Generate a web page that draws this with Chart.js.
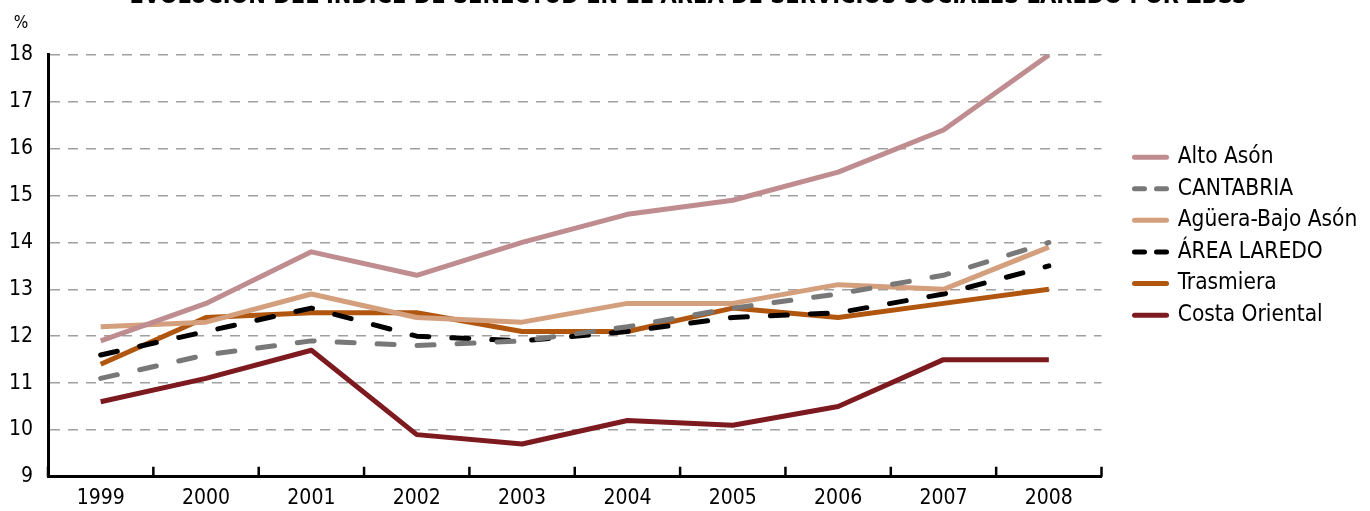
<!DOCTYPE html>
<html>
<head>
<meta charset="utf-8">
<script src="https://cdn.jsdelivr.net/npm/chart.js@4"></script>
<style>
  html, body { margin: 0; padding: 0; background: #fff; overflow: hidden; }
  #wrap { position: absolute; left: 0; top: -20px; width: 1370px; height: 531px; }
</style>
</head>
<body>
<div id="wrap"><canvas id="chart"></canvas></div>
<script>
const years = ['1999', '2000', '2001', '2002', '2003', '2004', '2005', '2006', '2007', '2008'];
const seriesNames = ['Alto Asón', 'CANTABRIA', 'Agüera-Bajo Asón', 'ÁREA LAREDO', 'Trasmiera', 'Costa Oriental'];
const altoAson = [11.9, 12.7, 13.8, 13.3, 14.0, 14.6, 14.9, 15.5, 16.4, 18.0];
const cantabria = [11.1, 11.6, 11.9, 11.8, 11.9, 12.2, 12.6, 12.9, 13.3, 14.0];
const agueraBajoAson = [12.2, 12.3, 12.9, 12.4, 12.3, 12.7, 12.7, 13.1, 13.0, 13.9];
const areaLaredo = [11.6, 12.1, 12.6, 12.0, 11.9, 12.1, 12.4, 12.5, 12.9, 13.5];
const trasmiera = [11.4, 12.4, 12.5, 12.5, 12.1, 12.1, 12.6, 12.4, 12.7, 13.0];
const costaOriental = [10.6, 11.1, 11.7, 9.9, 9.7, 10.2, 10.1, 10.5, 11.5, 11.5];
const yMin = 9, yMax = 18, yStep = 1;

const FONT = '"DejaVu Sans Condensed", "DejaVu Sans", sans-serif';

function line(label, data, color, dashed) {
  return {
    label: label,
    data: data,
    borderColor: color,
    backgroundColor: color,
    borderWidth: 5,
    borderDash: dashed ? [17, 23] : [],
    borderCapStyle: dashed ? 'round' : 'butt',
    borderJoinStyle: 'round',
    pointRadius: 0,
    tension: 0,
    fill: false
  };
}

// small inward tick marks on the category axis, between the years
const innerTicks = {
  id: 'innerTicks',
  afterDraw(chart) {
    const x = chart.scales.x;
    const ctx = chart.ctx;
    const half = (x.getPixelForValue(1) - x.getPixelForValue(0)) / 2;
    ctx.save();
    ctx.strokeStyle = '#000';
    ctx.lineWidth = 2.5;
    ctx.beginPath();
    for (let i = 0; i <= years.length; i++) {
      const px = x.getPixelForValue(i) - half;
      ctx.moveTo(px, x.top);
      ctx.lineTo(px, x.top - 10);
    }
    ctx.stroke();
    ctx.restore();
  }
};

new Chart(document.getElementById('chart'), {
  type: 'line',
  data: {
    labels: years,
    datasets: [
      line(seriesNames[0], altoAson, '#BF8C8F', false),
      line(seriesNames[1], cantabria, '#787878', true),
      line(seriesNames[2], agueraBajoAson, '#D49F7C', false),
      line(seriesNames[3], areaLaredo, '#000000', true),
      line(seriesNames[4], trasmiera, '#B0560F', false),
      line(seriesNames[5], costaOriental, '#7D1A1F', false)
    ]
  },
  options: {
    responsive: true,
    maintainAspectRatio: false,
    animation: false,
    layout: { padding: { left: 9, right: 2.7, top: 0, bottom: 0 } },
    plugins: {
      title: {
        display: true,
        text: 'EVOLUCIÓN DEL ÍNDICE DE SENECTUD EN EL ÁREA DE SERVICIOS SOCIALES LAREDO POR ZBSS',
        color: '#000',
        font: { family: FONT, size: 23.4, weight: 'bold', lineHeight: 1.2 },
        padding: { top: 2.9, bottom: 0 }
      },
      subtitle: {
        display: true,
        text: ' %',
        align: 'start',
        color: '#000',
        font: { family: FONT, size: 17, lineHeight: 1.2 },
        padding: { top: 2.8, bottom: 20.8 }
      },
      legend: {
        position: 'right',
        align: 'start',
        fullSize: false,
        maxWidth: 320,
        title: { display: true, text: ' ', font: { size: 10, lineHeight: 1 }, padding: { top: 0, bottom: 71.8 } },
        labels: {
          color: '#000',
          font: { family: FONT, size: 22.5 },
          usePointStyle: true,
          pointStyle: 'line',
          pointStyleWidth: 32,
          padding: 9.1,
          generateLabels(chart) {
            return chart.data.datasets.map((ds, i) => ({
              text: ds.label,
              datasetIndex: i,
              fillStyle: ds.borderColor,
              strokeStyle: ds.borderColor,
              lineWidth: 5,
              lineDash: ds.borderDash.length ? [10, 12] : [],
              lineCap: 'round',
              pointStyle: 'line',
              fontColor: '#000',
              hidden: false
            }));
          }
        }
      },
      tooltip: { enabled: false }
    },
    scales: {
      x: {
        type: 'category',
        offset: true,
        grid: { display: false, drawTicks: false },
        border: { display: true, color: '#000', width: 3 },
        ticks: { color: '#000', padding: 9, font: { family: FONT, size: 21 }, maxRotation: 0 },
        afterFit(scale) { scale.height = 34.2; }
      },
      y: {
        min: yMin,
        max: yMax,
        grid: { color: '#a0a0a0', lineWidth: 1.5, drawTicks: false },
        border: { display: true, color: '#000', width: 3, dash: [10, 8] },
        ticks: { stepSize: yStep, color: '#000', padding: 15, font: { family: FONT, size: 21 } },
        afterFit(scale) { scale.width = 39; }
      },
      gap: {
        type: 'linear',
        position: 'right',
        display: true,
        grid: { display: false, drawTicks: false },
        border: { display: false },
        ticks: { display: false },
        afterFit(scale) { scale.width = 23.9; }
      }
    }
  },
  plugins: [innerTicks]
});
</script>
</body>
</html>
